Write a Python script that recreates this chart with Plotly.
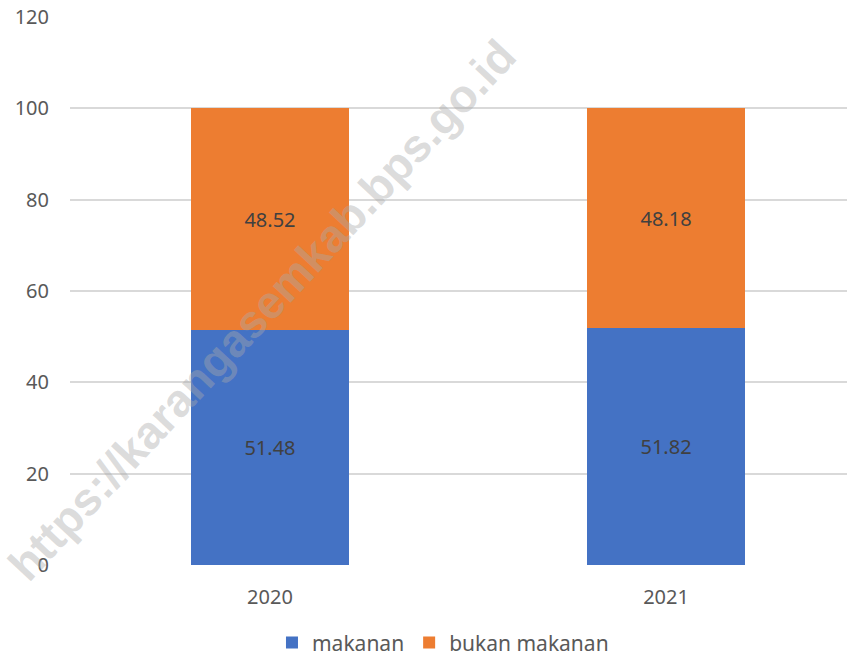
import plotly.graph_objects as go

years = ["2020", "2021"]
makanan = [51.48, 51.82]
bukan_makanan = [48.52, 48.18]
y_ticks = [0, 20, 40, 60, 80, 100, 120]

base_font = "Noto Sans, Open Sans, Arial, sans-serif"
label_font = dict(family=base_font, size=20, color="#404040")

fig = go.Figure()
fig.add_trace(go.Bar(
    x=years, y=makanan, name="makanan",
    marker=dict(color="#4472C4", line=dict(width=0)),
    text=[f"{v:.2f}" for v in makanan], textposition="inside",
    insidetextanchor="middle", textfont=label_font, width=0.397,
))
fig.add_trace(go.Bar(
    x=years, y=bukan_makanan, name="bukan makanan",
    marker=dict(color="#ED7D31", line=dict(width=0)),
    text=[f"{v:.2f}" for v in bukan_makanan], textposition="inside",
    insidetextanchor="middle", textfont=label_font, width=0.397,
))

# diagonal site watermark
fig.add_annotation(
    text="https://karangasemkab.bps.go.id",
    xref="paper", yref="paper", x=0.247, y=0.465,
    xanchor="center", yanchor="middle",
    showarrow=False, textangle=-47,
    font=dict(family="Liberation Sans, Arial, sans-serif", size=46,
              color="rgba(170,170,170,0.42)", weight="bold"),
)

fig.update_layout(
    width=847, height=660,
    margin=dict(l=70, r=0, t=17, b=95, autoexpand=False),
    barmode="stack",
    plot_bgcolor="white", paper_bgcolor="white",
    font=dict(family=base_font, size=20, color="#595959"),
    xaxis=dict(type="category", range=[-0.505, 1.457], showgrid=False,
               showline=False, ticks="", ticklabelstandoff=18, automargin=False,
               tickfont=dict(size=20, color="#595959")),
    yaxis=dict(range=[0, 120], tickvals=y_ticks, showgrid=True,
               gridcolor="#d9d9d9", gridwidth=2, zeroline=False,
               showline=False, ticks="", ticklabelstandoff=20, automargin=False,
               tickfont=dict(size=20, color="#595959")),
    legend=dict(orientation="h", xref="container", x=0.523, xanchor="center",
                yref="paper", y=-0.142, yanchor="middle",
                font=dict(size=21, color="#595959"),
                itemsizing="constant", traceorder="normal"),
    bargap=0.6,
)

fig.write_html("out.html")
